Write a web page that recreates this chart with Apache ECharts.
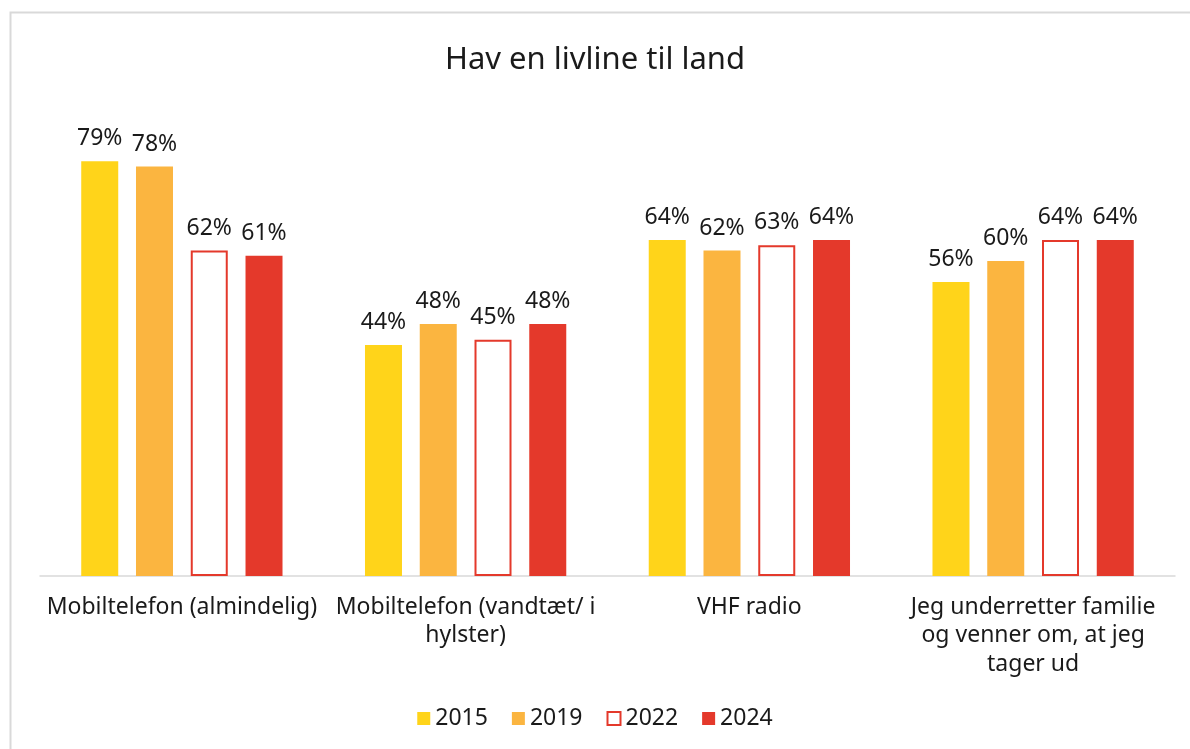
<!DOCTYPE html>
<html>
<head>
<meta charset="utf-8">
<title>Hav en livline til land</title>
<script src="https://cdn.jsdelivr.net/npm/echarts@6/dist/echarts.min.js"></script>
<style>
	* { margin: 0; padding: 0; }
	html, body { background: #ffffff; }
	#main { width: 1190px; height: 749px; }
</style>
</head>
<body>
<div id="main"></div>
<script>
	// categories (line breaks as in the chart)
	let categories = ['Mobiltelefon (almindelig)', 'Mobiltelefon (vandtæt/ i\nhylster)', 'VHF radio', 'Jeg underretter familie\nog venner om, at jeg\ntager ud'];
	let years = ['2015', '2019', '2022', '2024'];
	let v2015 = [79, 44, 64, 56];
	let v2019 = [78, 48, 62, 60];
	let v2022 = [62, 45, 63, 64];
	let v2024 = [61, 48, 64, 64];
	let myColor = ['#FFD41A', '#FBB540', '#E4392B', '#E4392B'];

	let myChart = echarts.init(document.getElementById('main'));
	let font = 'Noto Sans';
	let dataList = [v2015, v2019, v2022, v2024];
	let series = [];
	years.forEach((y, i) => {
		let s = {
			name: y,
			type: 'bar',
			data: dataList[i],
			barWidth: 37,
			barGap: '48%',
			itemStyle: { color: myColor[i] },
			label: {
				show: true,
				position: 'top',
				distance: 11,
				formatter: '{c}%',
				color: '#1a1a1a',
				fontSize: 23,
				fontFamily: font
			}
		};
		if (y === '2022') {
			s.itemStyle = { color: '#ffffff', borderColor: '#E4392B', borderWidth: 2 };
		}
		series.push(s);
	});

	let option = {
		animation: false,
		title: {
			text: 'Hav en livline til land',
			left: 'center',
			top: 40,
			textStyle: { color: '#1a1a1a', fontSize: 31, fontWeight: 'normal', fontFamily: font }
		},
		legend: {
			bottom: 14,
			icon: 'rect',
			itemWidth: 13,
			itemHeight: 13,
			itemGap: 24,
			textStyle: { color: '#1a1a1a', fontSize: 23, fontFamily: font },
			data: [
				{ name: '2015' },
				{ name: '2019' },
				{ name: '2022', itemStyle: { color: '#ffffff', borderColor: '#E4392B', borderWidth: 2 } },
				{ name: '2024' }
			]
		},
		grid: { left: 40, right: 15, top: 156, bottom: 173 },
		xAxis: {
			type: 'category',
			data: categories,
			axisLine: { lineStyle: { color: '#d9d9d9', width: 1.5 } },
			axisTick: { show: false },
			axisLabel: {
				color: '#1a1a1a',
				fontSize: 23,
				fontFamily: font,
				margin: 17,
				lineHeight: 28.5,
				interval: 0
			}
		},
		yAxis: {
			type: 'value',
			min: 0,
			max: 80,
			show: false,
			splitLine: { show: false }
		},
		graphic: [{
			type: 'rect',
			shape: { x: 10.5, y: 12.5, width: 1200, height: 760 },
			style: { fill: 'none', stroke: '#d9d9d9', lineWidth: 2 },
			silent: true
		}],
		series: series
	};
	myChart.setOption(option);
</script>
</body>
</html>
